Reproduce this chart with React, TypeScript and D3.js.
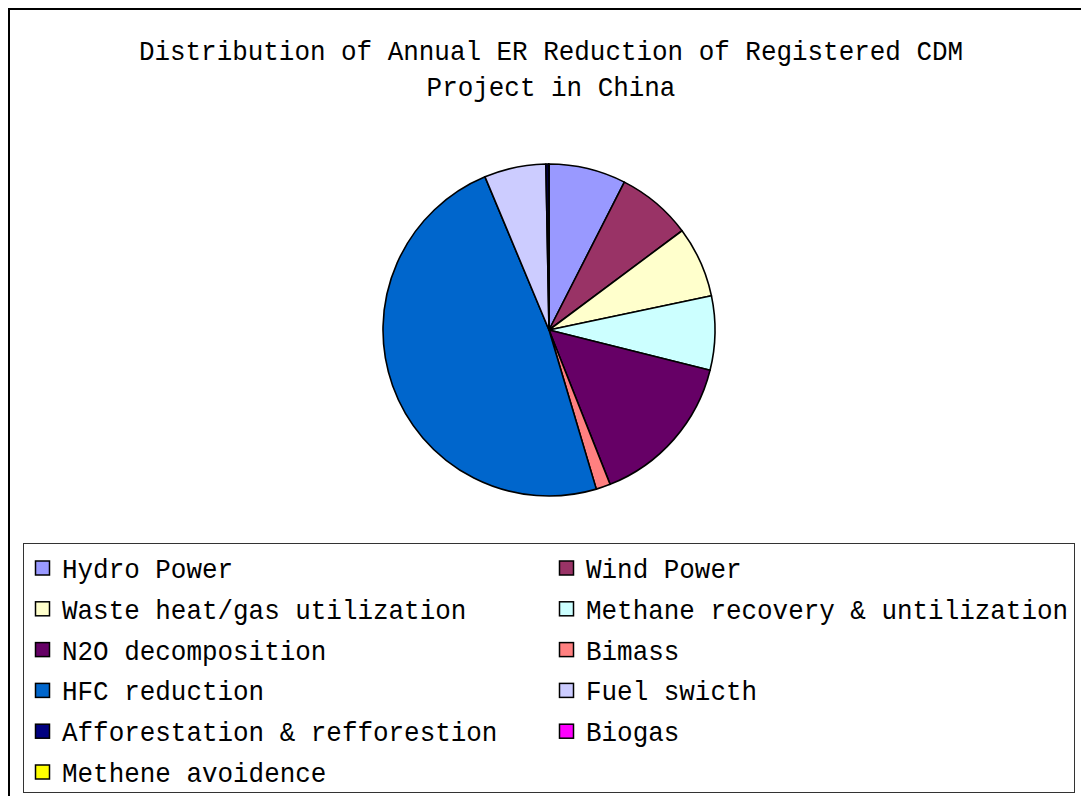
import React from "react";
import * as d3 from "d3";

const categories = [
  "Hydro Power",
  "Wind Power",
  "Waste heat/gas utilization",
  "Methane recovery & untilization",
  "N2O decomposition",
  "Bimass",
  "HFC reduction",
  "Fuel swicth",
  "Afforestation & refforestion",
  "Biogas",
  "Methene avoidence",
];
const values = [7.5, 7.3, 6.9, 7.2, 15.1, 1.4, 48.3, 6.0, 0.25, 0.03, 0.02];
const colors = [
  "#9999FF", "#993366", "#FFFFCC", "#CCFFFF", "#660066", "#FF8080",
  "#0066CC", "#CCCCFF", "#000080", "#FF00FF", "#FFFF00",
];
const titleLines = ["Distribution of Annual ER Reduction of Registered CDM", "Project in China"];

const FONT = "'Liberation Mono', 'DejaVu Sans Mono', monospace";
const CHAR_W = 15.55;

export default function App() {
  const W = 1081, H = 788;
  const cx = 541, cy = 322, r = 166;
  const pie = d3.pie<number>().sort(null).value((d) => d);
  const arcs = pie(values);
  const arcGen = d3.arc<d3.PieArcDatum<number>>().innerRadius(0).outerRadius(r);
  const rowY = (i: number) => 560 + i * 40.8;

  return (
    <svg width={W} height={H} style={{ display: "block" }}>
      <rect x={0} y={0} width={W} height={H} fill="#fff" />
      <rect x={1} y={1} width={1300} height={1300} fill="none" stroke="#000" strokeWidth={2} />
      {titleLines.map((t, i) => (
        <text
          key={i}
          x={543}
          y={52 + i * 35.5}
          textAnchor="middle"
          fontFamily={FONT}
          fontSize={28}
          textLength={t.length * CHAR_W}
          lengthAdjust="spacingAndGlyphs"
          fill="#000"
        >
          {t}
        </text>
      ))}
      <g transform={`translate(${cx},${cy})`}>
        {arcs.map((a, i) => (
          <path key={i} d={arcGen(a) || ""} fill={colors[i]} stroke="#000" strokeWidth={1.6} strokeLinejoin="round" />
        ))}
      </g>
      <rect x={15.5} y={535.5} width={1051} height={249} fill="#fff" stroke="#333" strokeWidth={1} />
      {categories.map((c, i) => {
        const col = i % 2;
        const row = Math.floor(i / 2);
        const sx = col === 0 ? 27 : 551;
        const y = rowY(row);
        return (
          <g key={c}>
            <rect x={sx + 0.5} y={y - 7} width={14} height={14} fill={colors[i]} stroke="#000" strokeWidth={1.5} />
            <text
              x={sx + 27}
              y={y + 10}
              fontFamily={FONT}
              fontSize={28}
              textLength={c.length * CHAR_W}
              lengthAdjust="spacingAndGlyphs"
              fill="#000"
            >
              {c}
            </text>
          </g>
        );
      })}
    </svg>
  );
}
